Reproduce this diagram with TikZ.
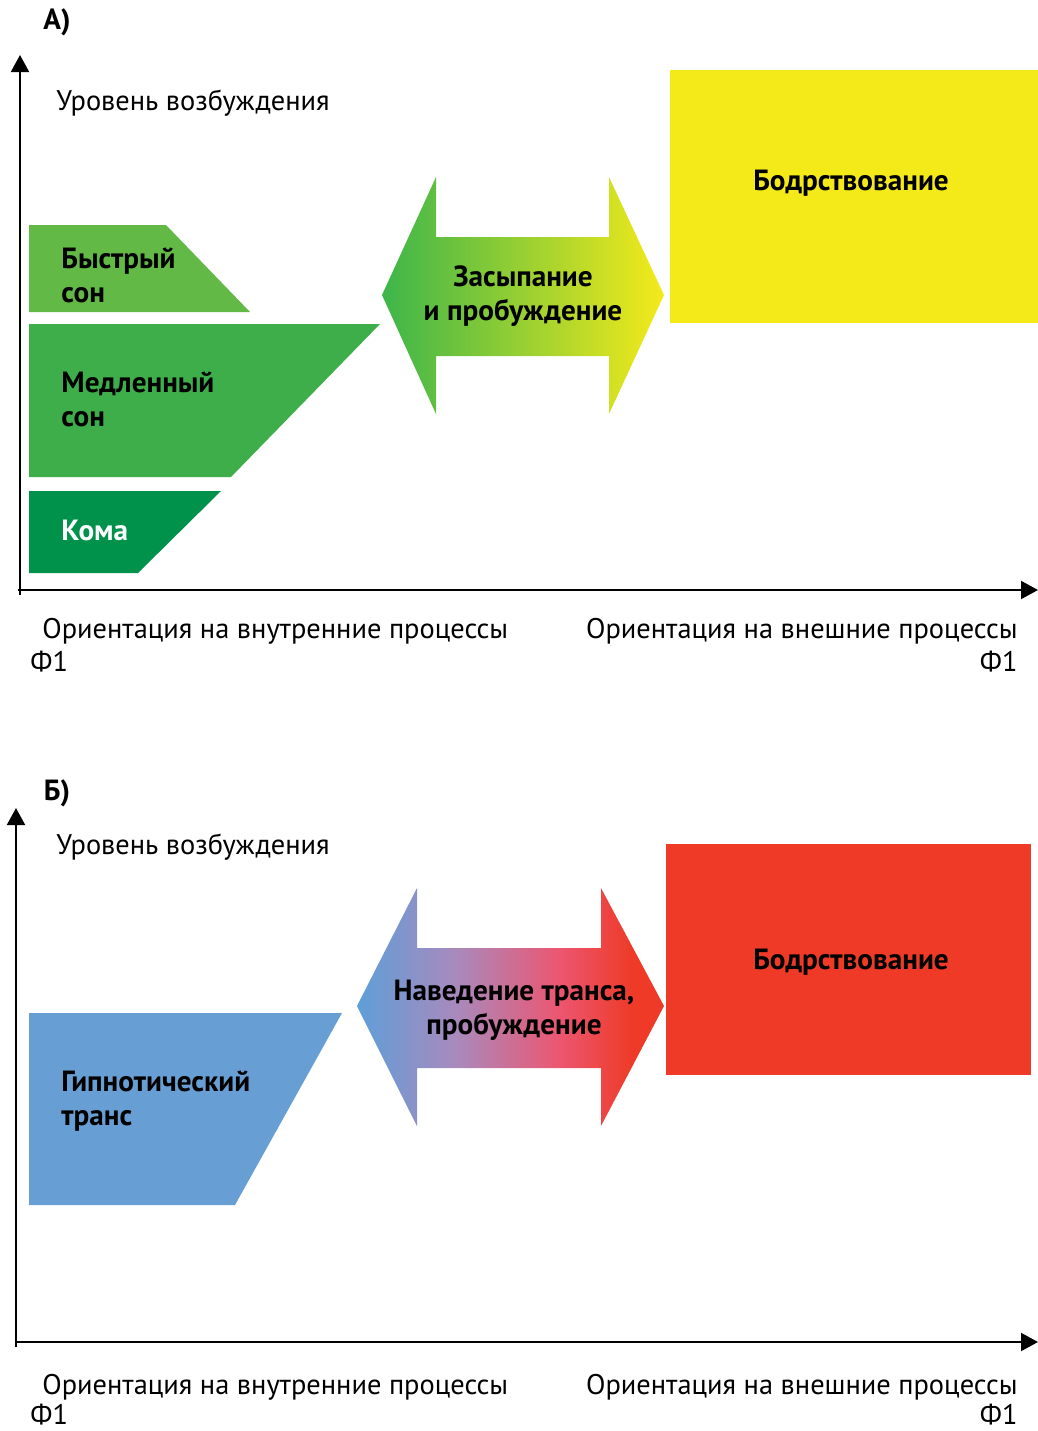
\documentclass[tikz,border=0pt]{standalone}
\usepackage{fontspec}
\setmainfont{PT Sans}
\usetikzlibrary{arrows.meta}

\definecolor{remgreen}{HTML}{62B946}
\definecolor{nremgreen}{HTML}{3EAE4A}
\definecolor{comagreen}{HTML}{00924A}
\definecolor{wakeyellow}{HTML}{F4EA1A}
\definecolor{wakered}{HTML}{EE3A27}
\definecolor{tranceblue}{HTML}{679FD5}
\definecolor{gradgreen}{HTML}{3DB54A}
\definecolor{gradblue}{HTML}{5E9ED8}
\definecolor{gradviolet}{HTML}{A88ABD}
\definecolor{gradpink}{HTML}{EC5670}

\pgfdeclarehorizontalshading{sleepshade}{100bp}{color(0bp)=(gradgreen); color(25bp)=(gradgreen); color(75bp)=(wakeyellow); color(100bp)=(wakeyellow)}
\pgfdeclarehorizontalshading{tranceshade}{100bp}{color(0bp)=(gradblue); color(25bp)=(gradblue); color(41bp)=(gradviolet); color(58bp)=(gradpink); color(70bp)=(wakered); color(100bp)=(wakered)}

\begin{document}
\begin{tikzpicture}[x=0.5pt,y=-0.5pt,
  axis/.style={line width=1pt,-{Triangle[length=8.5pt,width=9pt]}},
  plain/.style={inner sep=0pt,font=\fontsize{14.2}{17}\selectfont},
  bold/.style={inner sep=0pt,font=\fontsize{14.6}{17}\selectfont\bfseries}]
\useasboundingbox (0,0) rectangle (1038,1431);

\node[bold] (titleA) at (57,22) {А)};
\coordinate (oA) at (20,595);
\coordinate (yA) at (20,55);
\coordinate (xstartA) at (18,590);
\coordinate (xA) at (1038,590);
\draw[axis] (oA) -- (yA);
\draw[axis] (xstartA) -- (xA);
\node[plain,anchor=west] (levelA) at (56,103) {Уровень возбуждения};

\fill[wakeyellow] (670,70) rectangle (1038,323);
\node[bold] (wakeA) at (851,183) {Бодрствование};

\fill[remgreen] (29,225) -- (166,225) -- (250,312) -- (29,312) -- cycle;
\node[bold,anchor=west,align=left] (rem) at (61,275) {Быстрый\\сон};
\fill[nremgreen] (29,324) -- (380,324) -- (231,477) -- (29,477) -- cycle;
\node[bold,anchor=west,align=left] (nrem) at (61,399) {Медленный\\сон};
\fill[comagreen] (29,491) -- (221,491) -- (138,573) -- (29,573) -- cycle;
\node[bold,anchor=west,text=white] (coma) at (61,530) {Кома};

\shade[shading=sleepshade] (382,295) -- (436,177) -- (436,237) -- (609,237) -- (609,177) -- (664,295)
  -- (609,414) -- (609,356) -- (436,356) -- (436,414) -- cycle;
\node[bold,align=center] (sleepA) at (523,296) {Засыпание\\и пробуждение};

\node[plain,anchor=west] (innerA) at (42,631) {Ориентация на внутренние процессы};
\node[plain,anchor=west] (phiinA) at (30,662) {Ф1};
\node[plain,anchor=east] (outerA) at (1018,631) {Ориентация на внешние процессы};
\node[plain,anchor=east] (phioutA) at (1018,662) {Ф1};

\node[bold] (titleB) at (57,793) {Б)};
\coordinate (oB) at (16,1347);
\coordinate (yB) at (16,808);
\coordinate (xstartB) at (15,1342);
\coordinate (xB) at (1038,1342);
\draw[axis] (oB) -- (yB);
\draw[axis] (xstartB) -- (xB);
\node[plain,anchor=west] (levelB) at (56,847) {Уровень возбуждения};

\fill[wakered] (666,844) rectangle (1031,1075);
\node[bold] (wakeB) at (851,962) {Бодрствование};

\fill[tranceblue] (29,1013) -- (342,1013) -- (235,1205) -- (29,1205) -- cycle;
\node[bold,anchor=west,align=left] (trance) at (61,1101) {Гипнотический\\транс};

\shade[shading=tranceshade] (357,1006) -- (417,888) -- (417,948) -- (601,948) -- (601,888) -- (664,1006)
  -- (601,1126) -- (601,1068) -- (417,1068) -- (417,1126) -- cycle;
\node[bold,align=center] (induceB) at (514,1010) {Наведение транса,\\пробуждение};

\node[plain,anchor=west] (innerB) at (42,1387) {Ориентация на внутренние процессы};
\node[plain,anchor=west] (phiinB) at (30,1415) {Ф1};
\node[plain,anchor=east] (outerB) at (1018,1387) {Ориентация на внешние процессы};
\node[plain,anchor=east] (phioutB) at (1018,1415) {Ф1};
\end{tikzpicture}
\end{document}
